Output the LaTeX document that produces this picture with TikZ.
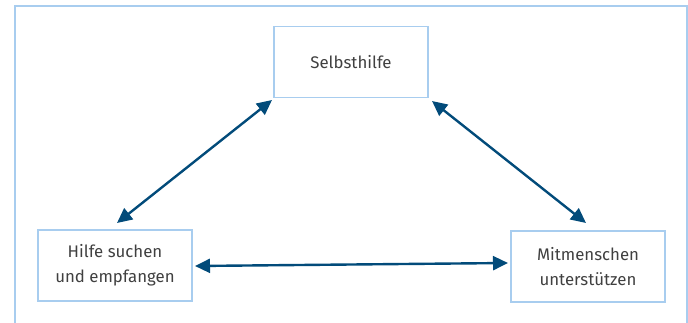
\documentclass[tikz,border=0pt]{standalone}
\usepackage{fontspec}
\setmainfont{Fira Sans}
\usetikzlibrary{arrows.meta}
\definecolor{framebl}{HTML}{A8CDEF}
\definecolor{arrowbl}{HTML}{024B7A}
\definecolor{txtgray}{HTML}{404040}
\begin{document}
\begin{tikzpicture}[x=1pt,y=-1pt,
  box/.style={draw=framebl,line width=1.2pt,minimum width=154pt,minimum height=71pt,
    inner sep=0pt,align=center,text=txtgray,font=\fontsize{16.8}{25}\selectfont},
  link/.style={draw=arrowbl,line width=2.4pt,{Triangle[length=15pt,width=14pt]}-{Triangle[length=15pt,width=14pt]}}]
\useasboundingbox (0,0) rectangle (688,323);
% outer frame, open at the bottom
\draw[framebl,line width=1.3pt] (15,323) -- (15,6) -- (687,6) -- (687,323);
% the three boxes
\node[box] (selbst) at (351,62) {Selbsthilfe};
\node[box] (hilfe) at (115,265.5) {Hilfe suchen\\und empfangen};
\node[box] (mit) at (588,266.5) {Mitmenschen\\unterstützen};
% end points of the links
\coordinate (a1) at (272,100);
\coordinate (a2) at (117,223);
\coordinate (b1) at (432,101);
\coordinate (b2) at (586,223);
\coordinate (c1) at (195,266);
\coordinate (c2) at (508,263);
\draw[link] (a2) -- (a1);
\draw[link] (b1) -- (b2);
\draw[link] (c1) -- (c2);
\end{tikzpicture}
\end{document}
